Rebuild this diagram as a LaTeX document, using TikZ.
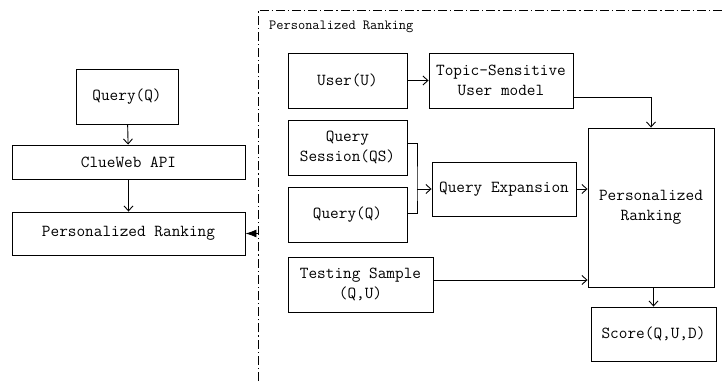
\documentclass[tikz,border=0pt]{standalone}
\usetikzlibrary{arrows.meta,calc}
\begin{document}
\begin{tikzpicture}[x=1pt,y=-1pt,
  box/.style={draw,line width=0.9pt,inner sep=0pt,align=center,
    font=\ttfamily\fontsize{16.8}{19.5}\selectfont},
  flow/.style={draw,line width=0.9pt,-{Straight Barb[length=5pt,width=9pt]}},
  wire/.style={draw,line width=0.9pt},
  frame/.style={line width=0.9pt,dash pattern=on 9pt off 3pt on 1.2pt off 3pt}]
\useasboundingbox (0,0) rectangle (724,381);

% left column: overall pipeline
\node[box,minimum width=102pt,minimum height=55pt] (q1) at (127,96.5) {Query(Q)};
\node[box,minimum width=233pt,minimum height=34pt] (api) at (128.5,162) {ClueWeb API};
\node[box,minimum width=233pt,minimum height=43pt] (prl) at (128.5,233.5) {Personalized Ranking};
\draw[flow] (q1) -- (api);
\draw[flow] (api) -- (prl);

% dash-dot frame of the ranking module
\draw[frame] (258,381) -- (258,10) -- (724,10);
\node[anchor=west,inner sep=0pt,font=\ttfamily\fontsize{14}{16}\selectfont] (title) at (269,27) {Personalized Ranking};
\coordinate (fr) at (258,233.5);
\draw[line width=0.9pt,-{Latex[length=11pt,width=8pt]}] (fr) -- (prl.east);

% ranking module internals
\node[box,minimum width=119pt,minimum height=55pt] (user) at (347.5,80.5) {User(U)};
\node[box,minimum width=144pt,minimum height=55pt] (topic) at (501,80.5) {Topic-Sensitive\\User model};
\node[box,minimum width=119pt,minimum height=55pt] (qs) at (347.5,147.5) {Query\\Session(QS)};
\node[box,minimum width=119pt,minimum height=55pt] (q2) at (347.5,214.5) {Query(Q)};
\node[box,minimum width=144pt,minimum height=54pt] (qe) at (504,189) {Query Expansion};
\node[box,minimum width=145pt,minimum height=55pt] (ts) at (360.5,284.5) {Testing Sample\\(Q,U)};
\node[box,minimum width=126pt,minimum height=159pt] (pr) at (651,207.5) {Personalized\\Ranking};
\node[box,minimum width=125pt,minimum height=54pt] (score) at (653.5,334) {Score(Q,U,D)};

\draw[flow] (user) -- (topic);
\draw[flow] ($(topic.east)+(0,16.5)$) -| (pr.north);
\coordinate (jn) at (417,189);
\draw[wire] ([yshift=4.5pt]qs.east) -| (jn) |- ([yshift=1.5pt]q2.east);
\draw[flow] (jn) -- (qe.west);
\draw[flow] (qe.east) -- (qe.east -| pr.west);
\draw[flow] ([yshift=4.5pt]ts.east) -- ([yshift=4.5pt]ts.east -| pr.west);
\draw[flow] (pr.south -| score.north) -- (score.north);
\end{tikzpicture}
\end{document}
